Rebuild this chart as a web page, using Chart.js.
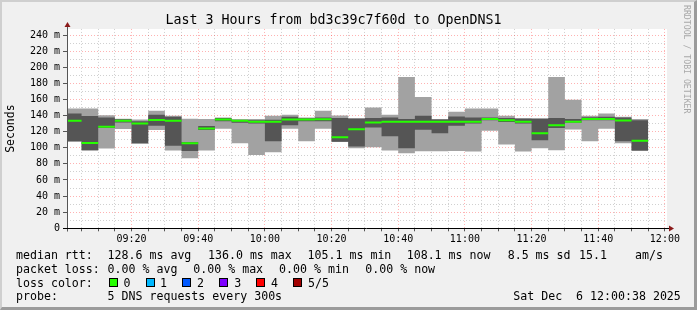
<!DOCTYPE html>
<html>
<head>
<meta charset="utf-8">
<script src="https://cdn.jsdelivr.net/npm/chart.js@4/dist/chart.umd.min.js"></script>
<style>
    html, body { margin: 0; padding: 0; background: #f0f0f0; }
    #frame {
        position: absolute; left: 0; top: 0; width: 697px; height: 310px; box-sizing: border-box;
        border-top: 2px solid #cfcfcf; border-left: 2px solid #cfcfcf;
        border-right: 3px solid #9b9b9b; border-bottom: 3px solid #9b9b9b;
    }
    #wrap { position: absolute; left: 0; top: 0; width: 697px; height: 310px; }
    .lg {
        position: absolute; font-family: "DejaVu Sans Mono", monospace; font-size: 11.6px;
        line-height: 14px; color: #000; white-space: pre;
    }
    .box { position: absolute; top: 278px; width: 7px; height: 7px; border: 1px solid #000; }
    #mark {
        position: absolute; left: 682px; top: 5px; writing-mode: vertical-rl;
        font-family: "DejaVu Sans Mono", monospace; font-size: 8.2px; color: #a8a8a8;
    }
</style>
</head>
<body>
<div id="frame"></div>
<div id="wrap"><canvas id="chart" width="697" height="310"></canvas></div>
<div id="mark">RRDTOOL / TOBI OETIKER</div>

<div class="lg" style="left:16px;top:248px">median rtt:</div>
<div class="lg" style="left:107.6px;top:248px">128.6 ms avg</div>
<div class="lg" style="left:208px;top:248px">136.0 ms max</div>
<div class="lg" style="left:307.6px;top:248px">105.1 ms min</div>
<div class="lg" style="left:406.7px;top:248px">108.1 ms now</div>
<div class="lg" style="left:507.7px;top:248px">8.5 ms sd</div>
<div class="lg" style="left:579px;top:248px">15.1</div>
<div class="lg" style="left:635px;top:248px">am/s</div>

<div class="lg" style="left:16px;top:261.8px">packet loss:</div>
<div class="lg" style="left:107.6px;top:261.8px">0.00 % avg</div>
<div class="lg" style="left:193.3px;top:261.8px">0.00 % max</div>
<div class="lg" style="left:279.1px;top:261.8px">0.00 % min</div>
<div class="lg" style="left:365.3px;top:261.8px">0.00 % now</div>

<div class="lg" style="left:16px;top:275.5px">loss color:</div>
<div class="box" style="left:108.9px;background:#26ff00"></div>
<div class="lg" style="left:123.6px;top:275.5px">0</div>
<div class="box" style="left:145.8px;background:#00b8ff"></div>
<div class="lg" style="left:160px;top:275.5px">1</div>
<div class="box" style="left:182.2px;background:#0059ff"></div>
<div class="lg" style="left:196.9px;top:275.5px">2</div>
<div class="box" style="left:219.1px;background:#7e00ff"></div>
<div class="lg" style="left:234.2px;top:275.5px">3</div>
<div class="box" style="left:256.4px;background:#ff0000"></div>
<div class="lg" style="left:271.1px;top:275.5px">4</div>
<div class="box" style="left:293.3px;background:#a10000"></div>
<div class="lg" style="left:308px;top:275.5px">5/5</div>

<div class="lg" style="left:16px;top:289.2px">probe:</div>
<div class="lg" style="left:107.6px;top:289.2px">5 DNS requests every 300s</div>
<div class="lg" style="left:513.3px;top:289.2px">Sat Dec  6 12:00:38 2025</div>

<script>
// Smokeping-style latency graph: 5 pings per 300 s step.
const graphStart = '09:00:38';
const graphEnd = '12:00:38';

// end time of every 5-minute step (the first one starts at graphStart)
const stepEnds = [
    '09:05', '09:10', '09:15', '09:20', '09:25', '09:30', '09:35', '09:40', '09:45',
    '09:50', '09:55', '10:00', '10:05', '10:10', '10:15', '10:20', '10:25', '10:30',
    '10:35', '10:40', '10:45', '10:50', '10:55', '11:00', '11:05', '11:10', '11:15',
    '11:20', '11:25', '11:30', '11:35', '11:40', '11:45', '11:50', '11:55'
];

// milliseconds
const maxRtt = [
    148.7, 148.7, 140.5, 136.0, 135.0, 145.9, 139.7, 136.0, 135.6, 137.5, 135.6, 135.6,
    139.7, 140.9, 137.6, 145.9, 140.0, 136.9, 150.0, 141.0, 187.8, 163.1, 135.6, 144.6,
    148.8, 148.8, 139.7, 136.9, 136.9, 187.8, 159.6, 139.7, 142.6, 138.5, 135.6
];
const ping4Rtt = [
    142.6, 139.3, 137.5, 135.5, 133.0, 140.9, 138.5, 107.0, 127.0, 137.0, 134.5, 134.0,
    134.8, 138.5, 136.5, 137.5, 137.0, 136.0, 136.9, 137.6, 135.6, 139.7, 135.0, 138.9,
    137.6, 137.6, 137.0, 136.0, 135.6, 136.9, 135.6, 138.0, 138.5, 137.5, 134.0
];
const medianRtt = [
    133.5, 106.0, 126.1, 133.5, 130.0, 134.4, 133.5, 105.6, 124.0, 135.2, 133.5, 132.3,
    132.3, 135.2, 135.2, 135.4, 113.2, 123.0, 131.4, 132.3, 132.3, 132.3, 132.3, 132.3,
    132.3, 135.6, 134.0, 132.3, 118.0, 127.8, 132.3, 135.8, 135.8, 133.8, 108.7
];
const ping2Rtt = [
    108.1, 97.0, 124.5, 131.5, 105.6, 127.4, 102.5, 96.0, 122.0, 133.0, 131.0, 130.0,
    108.0, 128.0, 133.0, 133.0, 107.5, 101.5, 125.3, 114.2, 99.4, 122.4, 117.9, 127.4,
    130.0, 134.0, 132.0, 130.0, 109.3, 124.5, 131.0, 134.0, 134.0, 108.0, 96.5
];
const minRtt = [
    107.5, 96.5, 99.0, 123.3, 105.0, 122.2, 96.7, 87.1, 96.7, 123.5, 105.6, 91.0,
    94.3, 123.5, 108.0, 123.5, 107.0, 99.4, 100.7, 96.5, 93.3, 95.8, 95.8, 96.0,
    95.3, 121.2, 103.9, 95.5, 99.4, 97.0, 122.6, 108.0, 123.5, 105.6, 96.0
];

const yTickValues = [0, 20, 40, 60, 80, 100, 120, 140, 160, 180, 200, 220, 240];
const yTickLabels = ['0', '20 m', '40 m', '60 m', '80 m', '100 m', '120 m', '140 m',
    '160 m', '180 m', '200 m', '220 m', '240 m'];
const xTickLabels = ['09:20', '09:40', '10:00', '10:20', '10:40', '11:00', '11:20', '11:40', '12:00'];

const MONO = '"DejaVu Sans Mono", monospace';
const MAJOR_GRID = 'rgba(255, 0, 0, 0.3)';
const MINOR_GRID = 'rgba(150, 150, 150, 0.45)';

function toMin(t) {
    const p = t.split(':').map(Number);
    return p[0] * 60 + p[1] + (p[2] || 0) / 60;
}

const xMin = toMin(graphStart);
const xMax = toMin(graphEnd);

function stepPoints(values, gaps) {
    const pts = [];
    values.forEach((v, i) => {
        const s = i === 0 ? xMin : toMin(stepEnds[i - 1]);
        const e = toMin(stepEnds[i]);
        pts.push({ x: s, y: v }, { x: e, y: v });
        if (gaps) pts.push({ x: e, y: null });
    });
    return pts;
}

function isMajorX(v) {
    return xTickLabels.some(l => Math.abs(toMin(l) - v) < 0.01);
}

const decor = {
    id: 'decor',
    beforeDraw(chart) {
        const { ctx, chartArea: a } = chart;
        ctx.save();
        ctx.fillStyle = '#ffffff';
        ctx.fillRect(a.left, a.top, a.right - a.left, a.bottom - a.top);
        ctx.restore();
    },
    afterDraw(chart) {
        const { ctx, chartArea: a } = chart;
        const x0 = Math.round(a.left) + 0.5;
        const y0 = Math.round(a.bottom) + 0.5;
        ctx.save();
        ctx.lineWidth = 1;
        ctx.strokeStyle = '#555';
        ctx.beginPath();
        ctx.moveTo(x0, y0 + 3);
        ctx.lineTo(x0, a.top - 4);
        ctx.stroke();
        ctx.strokeStyle = '#000';
        ctx.beginPath();
        ctx.moveTo(a.left - 4, y0);
        ctx.lineTo(a.right + 3, y0);
        ctx.stroke();
        ctx.fillStyle = '#8b1a1a';
        ctx.beginPath();
        ctx.moveTo(x0 - 3, a.top - 2);
        ctx.lineTo(x0 + 3, a.top - 2);
        ctx.lineTo(x0, a.top - 7);
        ctx.closePath();
        ctx.fill();
        ctx.beginPath();
        ctx.moveTo(a.right + 2, y0 - 3);
        ctx.lineTo(a.right + 2, y0 + 3);
        ctx.lineTo(a.right + 7, y0);
        ctx.closePath();
        ctx.fill();
        ctx.restore();
    }
};

new Chart(document.getElementById('chart'), {
    type: 'line',
    data: {
        datasets: [
            {
                label: 'median',
                data: stepPoints(medianRtt, true),
                borderColor: '#26ff00',
                borderWidth: 2,
                borderCapStyle: 'butt',
                spanGaps: false,
                fill: false,
                order: 0
            },
            {
                label: 'ping4',
                data: stepPoints(ping4Rtt),
                borderWidth: 0,
                backgroundColor: '#555555',
                fill: '+1',
                order: 1
            },
            {
                label: 'ping2',
                data: stepPoints(ping2Rtt),
                borderWidth: 0,
                fill: false,
                order: 1
            },
            {
                label: 'max',
                data: stepPoints(maxRtt),
                borderWidth: 0,
                backgroundColor: '#a2a2a2',
                fill: '+1',
                order: 2
            },
            {
                label: 'min',
                data: stepPoints(minRtt),
                borderWidth: 0,
                fill: false,
                order: 2
            }
        ]
    },
    options: {
        responsive: false,
        devicePixelRatio: 1,
        animation: false,
        elements: { point: { radius: 0, hoverRadius: 0 }, line: { tension: 0 } },
        layout: { padding: { left: 0, right: 30, top: 0, bottom: 0 } },
        plugins: {
            legend: { display: false },
            tooltip: { enabled: false },
            title: {
                display: true,
                text: 'Last 3 Hours from bd3c39c7f60d to OpenDNS1',
                color: '#000',
                font: { family: MONO, size: 13.3, weight: 'normal' },
                padding: { top: 13, bottom: 0 }
            }
        },
        scales: {
            x: {
                type: 'linear',
                min: xMin,
                max: xMax,
                afterBuildTicks: scale => {
                    const ticks = [];
                    for (let m = Math.ceil(xMin / 5) * 5; m <= xMax; m += 5) ticks.push({ value: m });
                    scale.ticks = ticks;
                },
                afterFit: scale => { scale.height = 310 - 228.3; },
                ticks: {
                    autoSkip: false,
                    maxRotation: 0,
                    padding: 2,
                    color: '#000',
                    font: { family: MONO, size: 10 },
                    callback: v => {
                        const l = xTickLabels.find(t => Math.abs(toMin(t) - v) < 0.01);
                        return l || '';
                    }
                },
                grid: {
                    color: ctx => isMajorX(ctx.tick.value) ? MAJOR_GRID : MINOR_GRID,
                    tickColor: '#555',
                    tickLength: 3,
                    tickBorderDash: []
                },
                border: { display: false, dash: [1, 2] }
            },
            y: {
                min: 0,
                max: 247.5,
                afterBuildTicks: scale => {
                    const ticks = [];
                    for (let v = 0; v <= yTickValues[yTickValues.length - 1]; v += 10) ticks.push({ value: v });
                    scale.ticks = ticks;
                },
                afterFit: scale => { scale.width = 67; },
                ticks: {
                    autoSkip: false,
                    padding: 3,
                    color: '#000',
                    font: { family: MONO, size: 10 },
                    callback: v => {
                        const i = yTickValues.indexOf(v);
                        return i >= 0 ? yTickLabels[i] : '';
                    }
                },
                grid: {
                    color: ctx => ctx.tick.value % 20 === 0 ? MAJOR_GRID : MINOR_GRID,
                    tickColor: ctx => ctx.tick.value % 20 === 0 ? '#555' : 'rgba(0,0,0,0)',
                    tickLength: 4,
                    tickBorderDash: []
                },
                border: { display: false, dash: [1, 2] },
                title: {
                    display: true,
                    text: 'Seconds',
                    color: '#000',
                    font: { family: MONO, size: 11.5 },
                    padding: { top: 4, bottom: 0 }
                }
            }
        }
    },
    plugins: [decor]
});
</script>
</body>
</html>
